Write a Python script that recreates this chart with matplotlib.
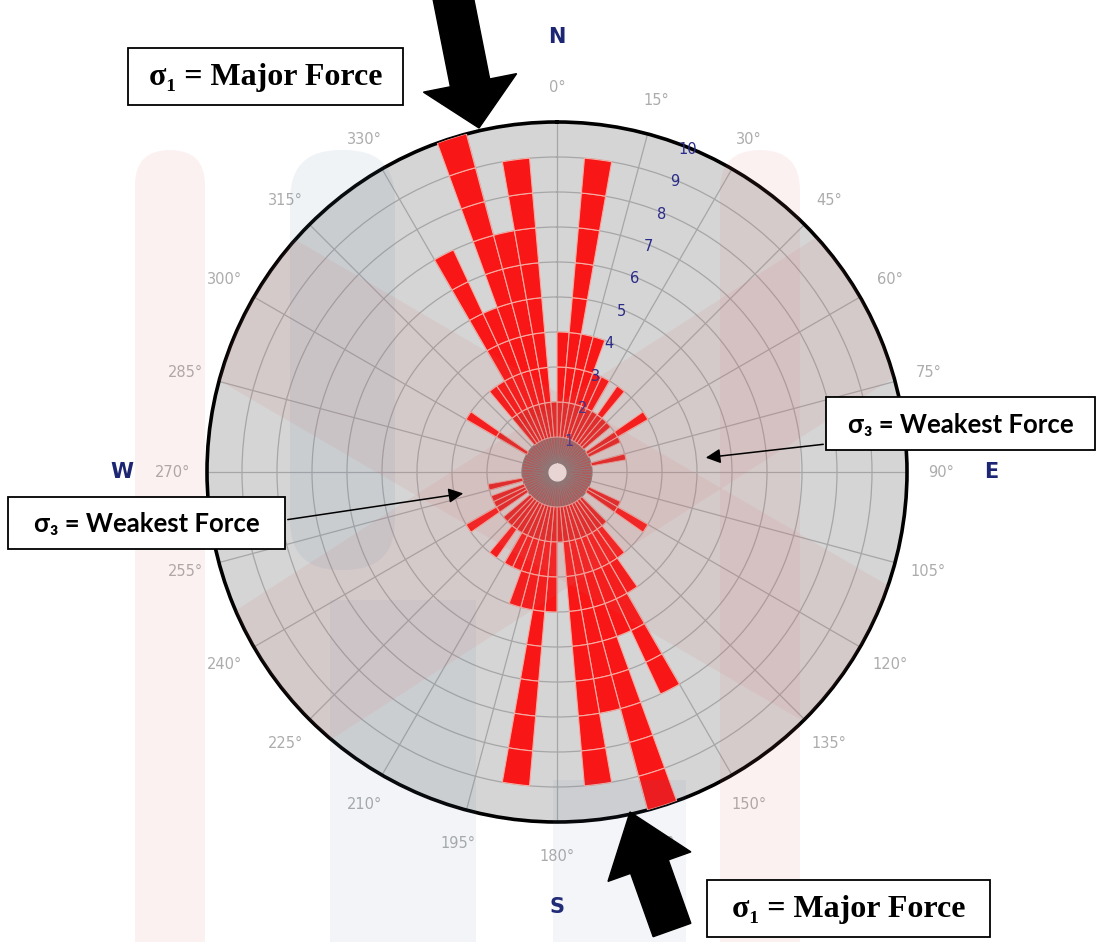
import numpy as np
import matplotlib.pyplot as plt
from matplotlib.patches import Rectangle, FancyBboxPatch, Polygon, Circle

# rose diagram, 5 degree bins (azimuth of bin start, clockwise from north)
bin_start = np.arange(0, 360, 5)
counts_ne = [4, 9, 4, 4, 3, 3, 2, 3, 2, 2, 1, 3, 2, 1, 1, 2, 1, 1]
counts_se = [1, 1, 1, 1, 1, 2, 3, 1, 1, 2, 3, 4, 7, 5, 10, 7, 9, 2]
counts_sw = [4, 9, 4, 4, 3, 3, 2, 3, 2, 2, 1, 3, 2, 2, 1, 2, 1, 1]
counts_nw = [1, 1, 1, 1, 1, 1, 3, 1, 1, 1, 3, 3, 7, 5, 10, 7, 9, 2]
counts = np.array(counts_ne + counts_se + counts_sw + counts_nw)

ring_values = list(range(1, 11))
angle_ticks = list(range(0, 360, 15))
compass = [('N', 0), ('E', 90), ('S', 180), ('W', 270)]

W, H = 1097, 942
cx, cy, R = 557, 472, 350

fig = plt.figure(figsize=(W / 100, H / 100), dpi=100)
fig.patch.set_facecolor('white')

ax = fig.add_axes([(cx - R) / W, (H - cy - R) / H, 2 * R / W, 2 * R / H], projection='polar')
ax.set_theta_zero_location('N')
ax.set_theta_direction(-1)
ax.set_facecolor('#d5d5d5')
ax.set_ylim(0, 10)
ax.set_xticks(np.radians(angle_ticks))
ax.set_xticklabels([])
ax.set_yticks(ring_values)
ax.set_yticklabels([])
ax.grid(color='#a6a6a6', lw=0.9)
ax.spines['polar'].set_color('black')
ax.spines['polar'].set_linewidth(2.6)

# stacked unit segments so the ring lines show through the bars
theta = np.radians(bin_start)
width = np.radians(5)
for k in range(counts.max()):
    m = counts > k
    if k == 0:
        face, edge, lw = '#a85656', '#7c7c7c', 0.6
    elif k == 1:
        face, edge, lw = '#e42020', '#e7a49c', 0.7
    else:
        face, edge, lw = '#f81616', '#f5ada4', 0.8
    ax.bar(theta[m], 1, width=width, bottom=k, align='edge', color=face,
           edgecolor=edge, linewidth=lw, zorder=3)

hole = np.linspace(0, 2 * np.pi, 120)
ax.fill_between(hole, 0, 0.24, color='#eeeeee', zorder=4)

for a in angle_ticks:
    ax.text(np.radians(a), 10.98, f'{a}°', ha='center', va='center',
            color='#acacac', fontsize=10.5, clip_on=False)

for v in ring_values:
    ax.text(np.radians(22), v - 0.05, str(v), ha='center', va='center',
            color='#2b2b8a', fontsize=10.5, zorder=6)

for letter, deg in compass:
    ax.text(np.radians(deg), 12.42, letter, ha='center', va='center',
            color='#1d2673', fontsize=15, fontweight='bold', clip_on=False)

# overlay in pixel coordinates: watermark, arrows and boxes
ov = fig.add_axes([0, 0, 1, 1], zorder=5)
ov.set_xlim(0, W)
ov.set_ylim(H, 0)
ov.axis('off')

pink = '#d86e6e'
blue = '#5b7fa6'
ov.add_patch(FancyBboxPatch((135, 150), 70, 900, boxstyle='round,pad=0,rounding_size=35',
                            fc=pink, ec='none', alpha=0.09))
ov.add_patch(FancyBboxPatch((720, 150), 80, 900, boxstyle='round,pad=0,rounding_size=40',
                            fc=pink, ec='none', alpha=0.09))
ov.add_patch(FancyBboxPatch((290, 150), 105, 420, boxstyle='round,pad=0,rounding_size=50',
                            fc=blue, ec='none', alpha=0.09))
ov.add_patch(Rectangle((330, 600), 146, 360, fc=blue, ec='none', alpha=0.08))
ov.add_patch(Rectangle((553, 780), 133, 180, fc=blue, ec='none', alpha=0.07))
clip = Circle((cx, cy), R, transform=ov.transData)
for p0, p1 in [((120, 230), (960, 720)), ((960, 240), (120, 780))]:
    p0, p1 = np.array(p0, float), np.array(p1, float)
    u = (p1 - p0) / np.hypot(*(p1 - p0))
    n = np.array([-u[1], u[0]]) * 80
    band = Polygon([p0 + n, p1 + n, p1 - n, p0 - n], closed=True, fc=pink, ec='none', alpha=0.10)
    ov.add_patch(band)
    band.set_clip_path(clip)


def block_arrow(tail, tip, shaft_w, head_w, head_len):
    tail, tip = np.array(tail, float), np.array(tip, float)
    u = (tip - tail) / np.hypot(*(tip - tail))
    n = np.array([-u[1], u[0]])
    base = tip - u * head_len
    pts = [tail + n * shaft_w / 2, base + n * shaft_w / 2, base + n * head_w / 2, tip,
           base - n * head_w / 2, base - n * shaft_w / 2, tail - n * shaft_w / 2]
    return Polygon(pts, closed=True, fc='black', ec='black', zorder=8)


ov.add_patch(block_arrow((452, -8), (479, 128), 40, 95, 46))
ov.add_patch(block_arrow((672, 930), (630, 812), 40, 88, 58))

serif = ['Liberation Serif', 'DejaVu Serif']
sans = ['Lato', 'DejaVu Sans']
boxes = [((128, 48, 275, 57), 'σ₁ = Major Force', serif, 23),
         ((707, 880, 283, 57), 'σ₁ = Major Force', serif, 23),
         ((826, 397, 269, 53), 'σ₃ = Weakest Force', sans, 18.5),
         ((8, 497, 277, 52), 'σ₃ = Weakest Force', sans, 18.5)]
for (x, y, w, h), label, fam, size in boxes:
    ov.add_patch(Rectangle((x, y), w, h, fc='white', ec='black', lw=1.3, zorder=9))
    ov.text(x + w / 2, y + h / 2 + 1, label, family=fam, fontsize=size, fontweight='bold',
            ha='center', va='center', zorder=10)

ov.annotate('', xy=(703, 458), xytext=(826, 444),
            arrowprops=dict(arrowstyle='-|>', color='black', lw=1.1, mutation_scale=22), zorder=9)
ov.annotate('', xy=(466, 493), xytext=(285, 520),
            arrowprops=dict(arrowstyle='-|>', color='black', lw=1.1, mutation_scale=22), zorder=9)

fig.savefig('out.png', dpi=100)
